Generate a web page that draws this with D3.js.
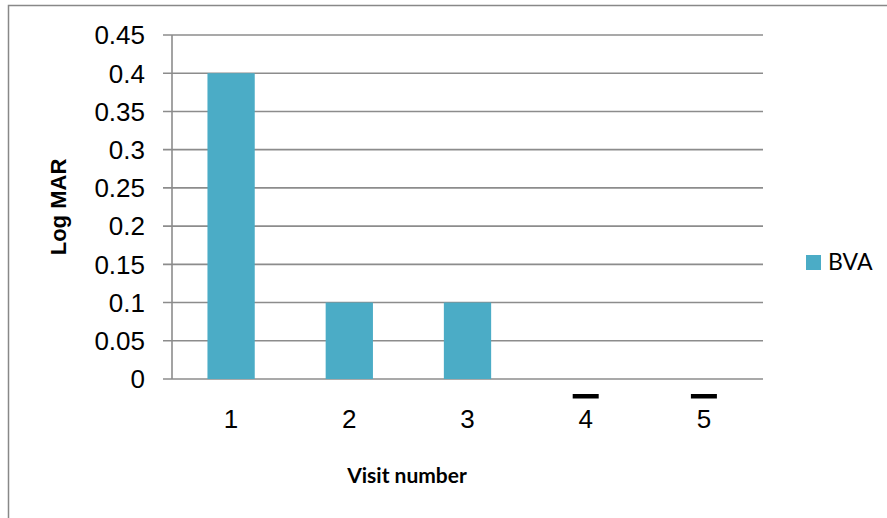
<!DOCTYPE html>
<html><head><meta charset="utf-8">
<script src="https://cdn.jsdelivr.net/npm/d3@7"></script>
<style>body{margin:0;background:#fff}svg{display:block}</style>
</head><body>
<script>
const categories = ["1","2","3","4","5"];
const bvaValues = [0.4, 0.1, 0.1, 0, 0];
const dashMarks = ["4","5"];
const yTicks = [0,0.05,0.1,0.15,0.2,0.25,0.3,0.35,0.4,0.45];
const seriesName = "BVA";

const W=887,H=518;
const ARIAL="'Liberation Sans', Arial, sans-serif";
const svg=d3.select("body").append("svg").attr("width",W).attr("height",H);
svg.append("rect").attr("x",8.5).attr("y",5.5).attr("width",W).attr("height",H).attr("fill","#fff").attr("stroke","#888").attr("stroke-width",1.5);

const L=172,R=763,T=35,B=379;
const x=d3.scaleBand().domain(categories).range([L,R]).paddingInner(0.6).paddingOuter(0.3);
const y=d3.scaleLinear().domain([0,0.45]).range([B,T]);

const g=svg.append("g");
g.selectAll("line.grid").data(yTicks).join("line").attr("class","grid")
 .attr("x1",L-9).attr("x2",R).attr("y1",d=>y(d)).attr("y2",d=>y(d))
 .attr("stroke","#8c8c8c").attr("stroke-width",1.6);
g.append("line").attr("x1",L).attr("x2",L).attr("y1",T).attr("y2",B).attr("stroke","#8c8c8c").attr("stroke-width",1.6);

g.selectAll("text.yt").data(yTicks).join("text").attr("class","yt")
 .attr("x",145).attr("y",d=>y(d)).attr("dy","0.36em").attr("text-anchor","end")
 .style("font-family",ARIAL).style("font-size","26px").attr("fill","#000")
 .text(d=>d3.format("")(d));

g.selectAll("rect.bar").data(bvaValues).join("rect").attr("class","bar")
 .attr("x",(d,i)=>x(categories[i])).attr("width",x.bandwidth())
 .attr("y",d=>y(d)).attr("height",d=>B-y(d)).attr("fill","#4bacc6");

g.selectAll("text.xt").data(categories).join("text").attr("class","xt")
 .attr("x",d=>x(d)+x.bandwidth()/2).attr("y",428).attr("text-anchor","middle")
 .style("font-family",ARIAL).style("font-size","26px").attr("fill","#000")
 .text(d=>d);

g.selectAll("rect.dash").data(dashMarks).join("rect").attr("class","dash")
 .attr("x",d=>x(d)+x.bandwidth()/2-13).attr("width",26).attr("y",394).attr("height",4.5).attr("fill","#000");

svg.append("text").attr("transform","translate(66,207) rotate(-90)").attr("text-anchor","middle")
 .style("font-family",ARIAL).style("font-weight","bold").style("font-size","22px").text("Log MAR");
svg.append("text").attr("x",407).attr("y",483).attr("text-anchor","middle")
 .style("font-family","Lato, sans-serif").style("font-weight","bold").style("font-size","21px").text("Visit number");

svg.append("rect").attr("x",806).attr("y",255).attr("width",15).attr("height",15).attr("fill","#4bacc6");
svg.append("text").attr("x",828).attr("y",270).style("font-family","Lato, sans-serif").style("font-size","23px").text(seriesName);
</script>
</body></html>
